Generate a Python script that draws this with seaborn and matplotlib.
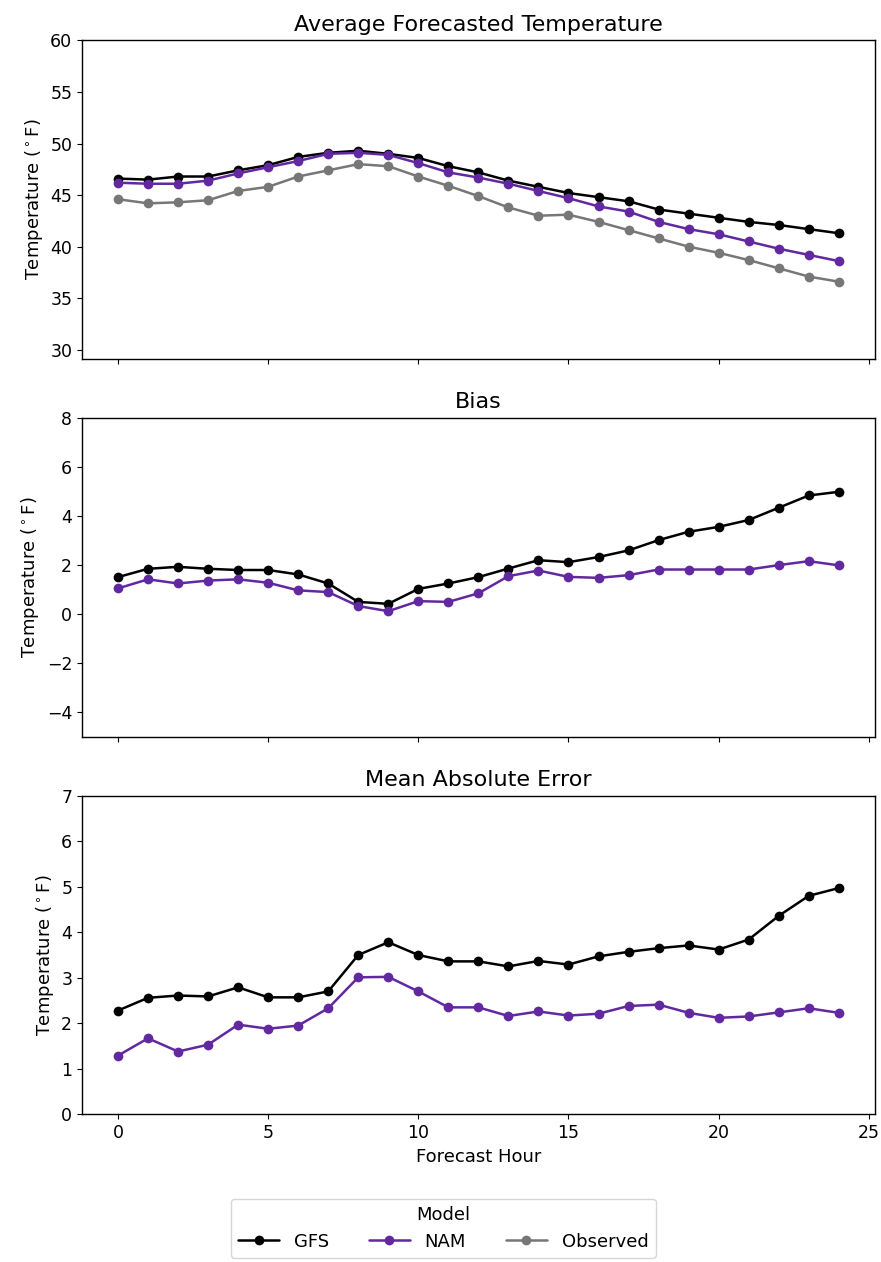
import numpy as np
import pandas as pd
import matplotlib
matplotlib.use("Agg")
import matplotlib.pyplot as plt
import seaborn as sns

hours = list(range(25))

gfs_temp = [46.6, 46.5, 46.8, 46.8, 47.4, 47.9, 48.7, 49.1, 49.3, 49.0, 48.6, 47.8,
            47.2, 46.4, 45.8, 45.2, 44.8, 44.4, 43.6, 43.2, 42.8, 42.4, 42.1, 41.7, 41.3]
nam_temp = [46.2, 46.1, 46.1, 46.4, 47.1, 47.7, 48.3, 49.0, 49.1, 48.9, 48.1, 47.2,
            46.7, 46.1, 45.4, 44.7, 43.9, 43.4, 42.4, 41.7, 41.2, 40.5, 39.8, 39.2, 38.6]
obs_temp = [44.6, 44.2, 44.3, 44.5, 45.4, 45.8, 46.8, 47.4, 48.0, 47.8, 46.8, 45.9,
            44.9, 43.8, 43.0, 43.1, 42.4, 41.6, 40.8, 40.0, 39.4, 38.7, 37.9, 37.1, 36.6]

gfs_bias = [1.51, 1.85, 1.93, 1.85, 1.80, 1.80, 1.62, 1.25, 0.50, 0.42, 1.03, 1.25,
            1.51, 1.86, 2.20, 2.12, 2.33, 2.60, 3.02, 3.36, 3.56, 3.84, 4.34, 4.84, 4.99]
nam_bias = [1.05, 1.42, 1.25, 1.37, 1.42, 1.28, 0.97, 0.90, 0.33, 0.12, 0.53, 0.50,
            0.85, 1.55, 1.78, 1.52, 1.48, 1.59, 1.82, 1.82, 1.82, 1.82, 2.00, 2.16, 1.99]

gfs_mae = [2.28, 2.56, 2.61, 2.59, 2.79, 2.57, 2.57, 2.70, 3.50, 3.78, 3.50, 3.36,
           3.36, 3.25, 3.37, 3.29, 3.47, 3.57, 3.65, 3.71, 3.62, 3.84, 4.36, 4.80, 4.97]
nam_mae = [1.29, 1.67, 1.38, 1.53, 1.97, 1.88, 1.95, 2.33, 3.01, 3.02, 2.70, 2.35,
           2.35, 2.16, 2.26, 2.17, 2.21, 2.38, 2.41, 2.23, 2.12, 2.15, 2.24, 2.33, 2.23]

models = ["GFS", "NAM", "Observed"]
palette = {"GFS": "#000000", "NAM": "#6228a0", "Observed": "#777777"}


def long_frame(series):
    rows = []
    for name, vals in series.items():
        for h, v in zip(hours, vals):
            rows.append({"Forecast Hour": h, "value": v, "Model": name})
    return pd.DataFrame(rows)


temp_df = long_frame({"GFS": gfs_temp, "NAM": nam_temp, "Observed": obs_temp})
bias_df = long_frame({"GFS": gfs_bias, "NAM": nam_bias})
mae_df = long_frame({"GFS": gfs_mae, "NAM": nam_mae})

sns.set_style("ticks")
plt.rcParams["font.family"] = ["DejaVu Sans"]
for key in ["text.color", "axes.labelcolor", "axes.edgecolor", "xtick.color", "ytick.color"]:
    plt.rcParams[key] = "black"

fig, axes = plt.subplots(3, 1, figsize=(8.81, 12.62), dpi=100, sharex=True)
fig.subplots_adjust(left=0.093, right=0.993, top=0.968, bottom=0.117, hspace=0.185)

panels = [
    (temp_df, "Average Forecasted Temperature", (29.1, 60), [30, 35, 40, 45, 50, 55, 60]),
    (bias_df, "Bias", (-5, 8), [-4, -2, 0, 2, 4, 6, 8]),
    (mae_df, "Mean Absolute Error", (0, 7), [0, 1, 2, 3, 4, 5, 6, 7]),
]

for ax, (df, title, ylim, yticks) in zip(axes, panels):
    sns.lineplot(data=df, x="Forecast Hour", y="value", hue="Model",
                 hue_order=[m for m in models if m in df["Model"].unique()],
                 palette=palette, marker="o", markersize=7, markeredgewidth=0,
                 linewidth=1.8, ax=ax, legend=(ax is axes[0]))
    ax.set_title(title, fontsize=16, pad=7)
    ax.set_ylim(*ylim)
    ax.set_yticks(yticks)
    ax.set_ylabel("Temperature ($^\\circ$F)", fontsize=13)
    ax.set_xlabel("")
    ax.tick_params(labelsize=12.5)
    for s in ax.spines.values():
        s.set_color("black")
        s.set_linewidth(1.0)

axes[2].set_xlabel("Forecast Hour", fontsize=13)
axes[2].set_xticks([0, 5, 10, 15, 20, 25])

handles, labels = axes[0].get_legend_handles_labels()
axes[0].get_legend().remove()
fig.legend(handles, labels, title="Model", loc="lower center",
           bbox_to_anchor=(0.503, -0.004), ncol=3, fontsize=13, title_fontsize=13,
           handlelength=2.3, columnspacing=2.2, frameon=True)

fig.savefig("out.png", dpi=100)
